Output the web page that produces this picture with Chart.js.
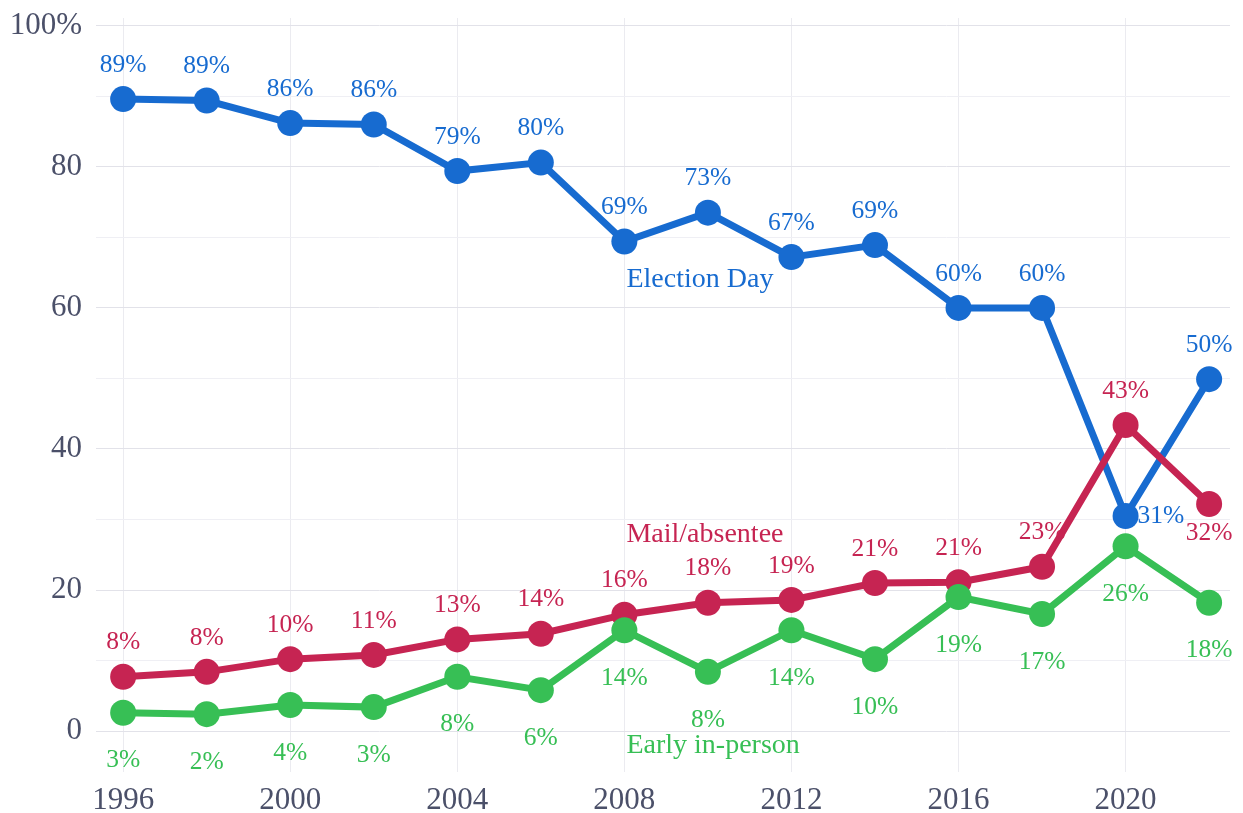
<!DOCTYPE html>
<html>
<head>
<meta charset="utf-8">
<script src="https://cdn.jsdelivr.net/npm/chart.js@4"></script>
<style>
  html, body { margin: 0; padding: 0; background: #ffffff; }
  #wrap { width: 1243px; height: 813px; position: relative; }
</style>
</head>
<body>
<div id="wrap"><canvas id="chart"></canvas></div>
<script>
/////////////////////
//    Data         //
/////////////////////
const YEARS = [1996, 1998, 2000, 2002, 2004, 2006, 2008, 2010, 2012, 2014, 2016, 2018, 2020, 2022];
const ELECTION_DAY = [89.6, 89.4, 86.2, 86.0, 79.4, 80.6, 69.4, 73.5, 67.2, 68.9, 60.0, 60.0, 30.5, 49.9];
const MAIL = [7.7, 8.4, 10.2, 10.8, 13.0, 13.8, 16.5, 18.2, 18.6, 21.0, 21.1, 23.3, 43.4, 32.2];
const EARLY = [2.6, 2.4, 3.7, 3.4, 7.7, 5.8, 14.3, 8.4, 14.3, 10.2, 19.0, 16.6, 26.2, 18.2];
const ELECTION_LABELS = ['89%', '89%', '86%', '86%', '79%', '80%', '69%', '73%', '67%', '69%', '60%', '60%', '31%', '50%'];
const MAIL_LABELS = ['8%', '8%', '10%', '11%', '13%', '14%', '16%', '18%', '19%', '21%', '21%', '23%', '43%', '32%'];
const EARLY_LABELS = ['3%', '2%', '4%', '3%', '8%', '6%', '14%', '8%', '14%', '10%', '19%', '17%', '26%', '18%'];
const X_TICKS = [1996, 2000, 2004, 2008, 2012, 2016, 2020];
const SERIES_NAMES = ['Election Day', 'Mail/absentee', 'Early in-person'];

/////////////////////
//    Style        //
/////////////////////
const FONT = '"Liberation Serif", "DejaVu Serif", serif';
const BLUE = '#176bd0';
const RED = '#c62452';
const GREEN = '#37bf55';
const TICK_COLOR = '#4b5069';

// where each value label sits relative to its point
const ELECTION_POS = ['a', 'a', 'a', 'a', 'a', 'a', 'a', 'a', 'a', 'a', 'a', 'a', 'r', 'a'];
const MAIL_POS = ['a', 'a', 'a', 'a', 'a', 'a', 'a', 'a', 'a', 'a', 'a', 'a', 'a', 'b2'];
const EARLY_POS = ['b', 'b', 'b', 'b', 'b', 'b', 'b', 'b', 'b', 'b', 'b', 'b', 'b', 'b'];

// series name annotations, in data coordinates (left aligned)
const NAME_X = 2008.05;
const NAME_Y = [64.0, 27.8, -2.0];

function toPoints(values) {
  return values.map((v, i) => ({ x: YEARS[i], y: v }));
}

const valueLabels = {
  id: 'valueLabels',
  afterDatasetsDraw(chart) {
    const ctx = chart.ctx;
    const xs = chart.scales.x;
    const ys = chart.scales.y;
    ctx.save();
    ctx.font = `25.5px ${FONT}`;
    ctx.textBaseline = 'middle';
    chart.data.datasets.forEach((ds, d) => {
      const meta = chart.getDatasetMeta(d);
      ctx.fillStyle = ds.borderColor;
      meta.data.forEach((pt, i) => {
        const pos = ds.labelPos[i];
        const text = ds.labelText[i];
        let x = pt.x;
        let y = pt.y;
        ctx.textAlign = 'center';
        if (pos === 'a') {
          y -= 34;
        } else if (pos === 'b') {
          y += 48;
        } else if (pos === 'b2') {
          y += 29;
        } else if (pos === 'r') {
          ctx.textAlign = 'left';
          x += 12;
        }
        ctx.fillText(text, x, y);
      });
    });

    // series names
    ctx.textAlign = 'left';
    ctx.font = `28px ${FONT}`;
    const colors = [BLUE, RED, GREEN];
    SERIES_NAMES.forEach((name, i) => {
      ctx.fillStyle = colors[i];
      ctx.fillText(name, xs.getPixelForValue(NAME_X), ys.getPixelForValue(NAME_Y[i]));
    });
    ctx.restore();
  }
};

function makeDataset(values, color, labels, pos) {
  return {
    data: toPoints(values),
    borderColor: color,
    backgroundColor: color,
    borderWidth: 7,
    pointRadius: 13,
    pointHoverRadius: 13,
    pointBorderWidth: 0,
    pointBackgroundColor: color,
    tension: 0,
    labelText: labels,
    labelPos: pos
  };
}

const config = {
  type: 'line',
  data: {
    datasets: [
      makeDataset(EARLY, GREEN, EARLY_LABELS, EARLY_POS),
      makeDataset(MAIL, RED, MAIL_LABELS, MAIL_POS),
      makeDataset(ELECTION_DAY, BLUE, ELECTION_LABELS, ELECTION_POS)
    ]
  },
  options: {
    responsive: true,
    maintainAspectRatio: false,
    animation: false,
    events: [],
    layout: {
      padding: { left: 0, right: 13, top: 18, bottom: 0 }
    },
    scales: {
      x: {
        type: 'linear',
        min: 1995.35,
        max: 2022.5,
        border: { display: false },
        grid: { color: '#ebebf0', lineWidth: 1, drawTicks: false },
        afterBuildTicks: (scale) => {
          scale.ticks = X_TICKS.map(v => ({ value: v }));
        },
        afterFit: (scale) => {
          scale.height = 41;
          scale.paddingLeft = 0;
          scale.paddingRight = 0;
        },
        ticks: {
          padding: 10,
          color: TICK_COLOR,
          font: { family: FONT, size: 31 },
          maxRotation: 0,
          callback: (v) => String(v)
        }
      },
      y: {
        min: -5.8,
        max: 101.1,
        border: { display: false },
        grid: {
          drawTicks: false,
          color: (c) => (c.tick && c.tick.value % 20 === 0 ? '#e2e2e9' : '#efeff4'),
          lineWidth: 1
        },
        afterBuildTicks: (scale) => {
          const ticks = [];
          for (let v = 0; v <= 100; v += 10) ticks.push({ value: v });
          scale.ticks = ticks;
        },
        afterFit: (scale) => {
          scale.width = 96;
          scale.paddingTop = 0;
          scale.paddingBottom = 0;
        },
        ticks: {
          padding: 14,
          color: TICK_COLOR,
          font: { family: FONT, size: 31 },
          callback: (v) => {
            if (v % 20 !== 0) return '';
            return v === 100 ? '100%' : String(v);
          }
        }
      }
    },
    plugins: {
      legend: { display: false },
      tooltip: { enabled: false }
    }
  },
  plugins: [valueLabels]
};

new Chart(document.getElementById('chart'), config);
</script>
</body>
</html>
